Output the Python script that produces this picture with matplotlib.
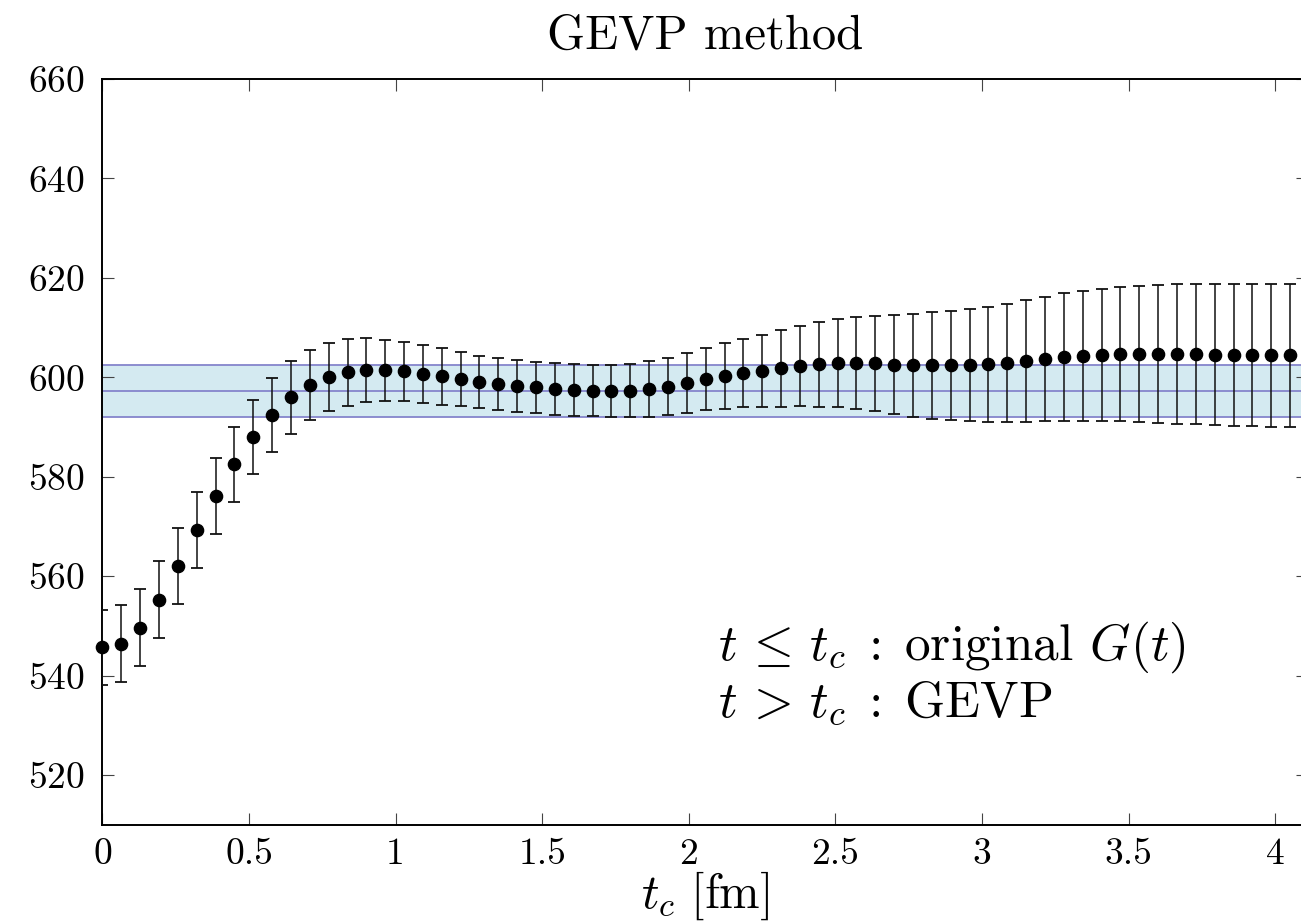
import matplotlib
matplotlib.use("Agg")
import matplotlib.pyplot as plt
import numpy as np

plt.rcParams["font.family"] = "serif"
plt.rcParams["font.serif"] = ["cmr10"]
plt.rcParams["mathtext.fontset"] = "cm"
plt.rcParams["axes.formatter.use_mathtext"] = True

# t_c values [fm] (lattice time slices)
tc = [0.000, 0.064, 0.129, 0.193, 0.257, 0.322, 0.386, 0.450, 0.514, 0.579,
      0.643, 0.707, 0.772, 0.836, 0.900, 0.965, 1.029, 1.093, 1.157, 1.222,
      1.286, 1.350, 1.415, 1.479, 1.543, 1.608, 1.672, 1.736, 1.800, 1.865,
      1.929, 1.993, 2.058, 2.122, 2.186, 2.251, 2.315, 2.379, 2.443, 2.508,
      2.572, 2.636, 2.701, 2.765, 2.829, 2.894, 2.958, 3.022, 3.086, 3.151,
      3.215, 3.279, 3.344, 3.408, 3.472, 3.537, 3.601, 3.665, 3.729, 3.794,
      3.858, 3.922, 3.987, 4.051]

mass = [545.7, 546.5, 549.7, 555.3, 562.1, 569.3, 576.1, 582.5, 588.0, 592.5,
        596.0, 598.5, 600.1, 601.0, 601.45, 601.4, 601.2, 600.7, 600.2, 599.65,
        599.15, 598.7, 598.3, 598.0, 597.65, 597.45, 597.35, 597.25, 597.35, 597.65,
        598.15, 598.9, 599.65, 600.35, 600.9, 601.35, 601.8, 602.25, 602.65, 602.95,
        602.9, 602.8, 602.55, 602.4, 602.4, 602.4, 602.45, 602.6, 602.9, 603.3,
        603.7, 604.1, 604.3, 604.45, 604.65, 604.7, 604.7, 604.7, 604.65, 604.55,
        604.5, 604.45, 604.45, 604.45]

err = [7.5, 7.7, 7.7, 7.7, 7.7, 7.7, 7.6, 7.6, 7.5, 7.4,
       7.3, 7.0, 6.9, 6.65, 6.45, 6.2, 6.0, 5.8, 5.65, 5.45,
       5.25, 5.2, 5.2, 5.1, 5.15, 5.15, 5.15, 5.25, 5.35, 5.6,
       5.75, 6.0, 6.25, 6.6, 6.9, 7.25, 7.7, 8.05, 8.5, 8.85,
       9.3, 9.6, 9.95, 10.3, 10.7, 10.9, 11.25, 11.5, 11.95, 12.2,
       12.5, 12.8, 13.0, 13.25, 13.5, 13.75, 13.9, 14.05, 14.1, 14.2,
       14.25, 14.3, 14.35, 14.4]

# fitted plateau band
band_lo, band_mid, band_hi = 592.1, 597.25, 602.4

xticks = [0, 0.5, 1, 1.5, 2, 2.5, 3, 3.5, 4]
xtick_labels = ["0", "0.5", "1", "1.5", "2", "2.5", "3", "3.5", "4"]
yticks = [520, 540, 560, 580, 600, 620, 640, 660]

fig = plt.figure(figsize=(13.01, 9.24), dpi=100)
ax = fig.add_axes([0.0787, 0.1071, 0.9267, 0.8074])

ax.axhspan(band_lo, band_hi, facecolor="#d4eaf1", edgecolor="none", zorder=1)
for yv in (band_lo, band_mid, band_hi):
    ax.axhline(yv, color="#8585cc", lw=1.3, zorder=2)

ax.errorbar(tc, mass, yerr=err, fmt="none", ecolor="#111111", elinewidth=1.1,
            capsize=4.5, capthick=1.3, zorder=3)
ax.plot(tc, mass, "o", color="black", ms=8.8, zorder=4, clip_on=False)

ax.set_xlim(0, 4.112)
ax.set_ylim(510, 660)
ax.set_xticks(xticks)
ax.set_xticklabels(xtick_labels)
ax.set_yticks(yticks)

ax.tick_params(axis="both", which="major", direction="in", length=8.6, width=0.8,
               color="#444444", top=True, right=True, labelsize=27)
ax.tick_params(axis="x", pad=9)
ax.tick_params(axis="y", pad=13)
for sp in ax.spines.values():
    sp.set_linewidth(1.4)

ax.set_title("GEVP method", fontsize=35, pad=22)
ax.set_xlabel(r"$t_c\ [\mathrm{fm}]$", fontsize=35, labelpad=-1)

ax.text(2.10, 543.3, r"$t\,\leq\,t_c\;:\;$original $G(t)$", fontsize=37, va="baseline")
ax.text(2.10, 531.6, r"$t\,>\,t_c\;:\;$GEVP", fontsize=37, va="baseline")

fig.savefig("out.png", dpi=100)
